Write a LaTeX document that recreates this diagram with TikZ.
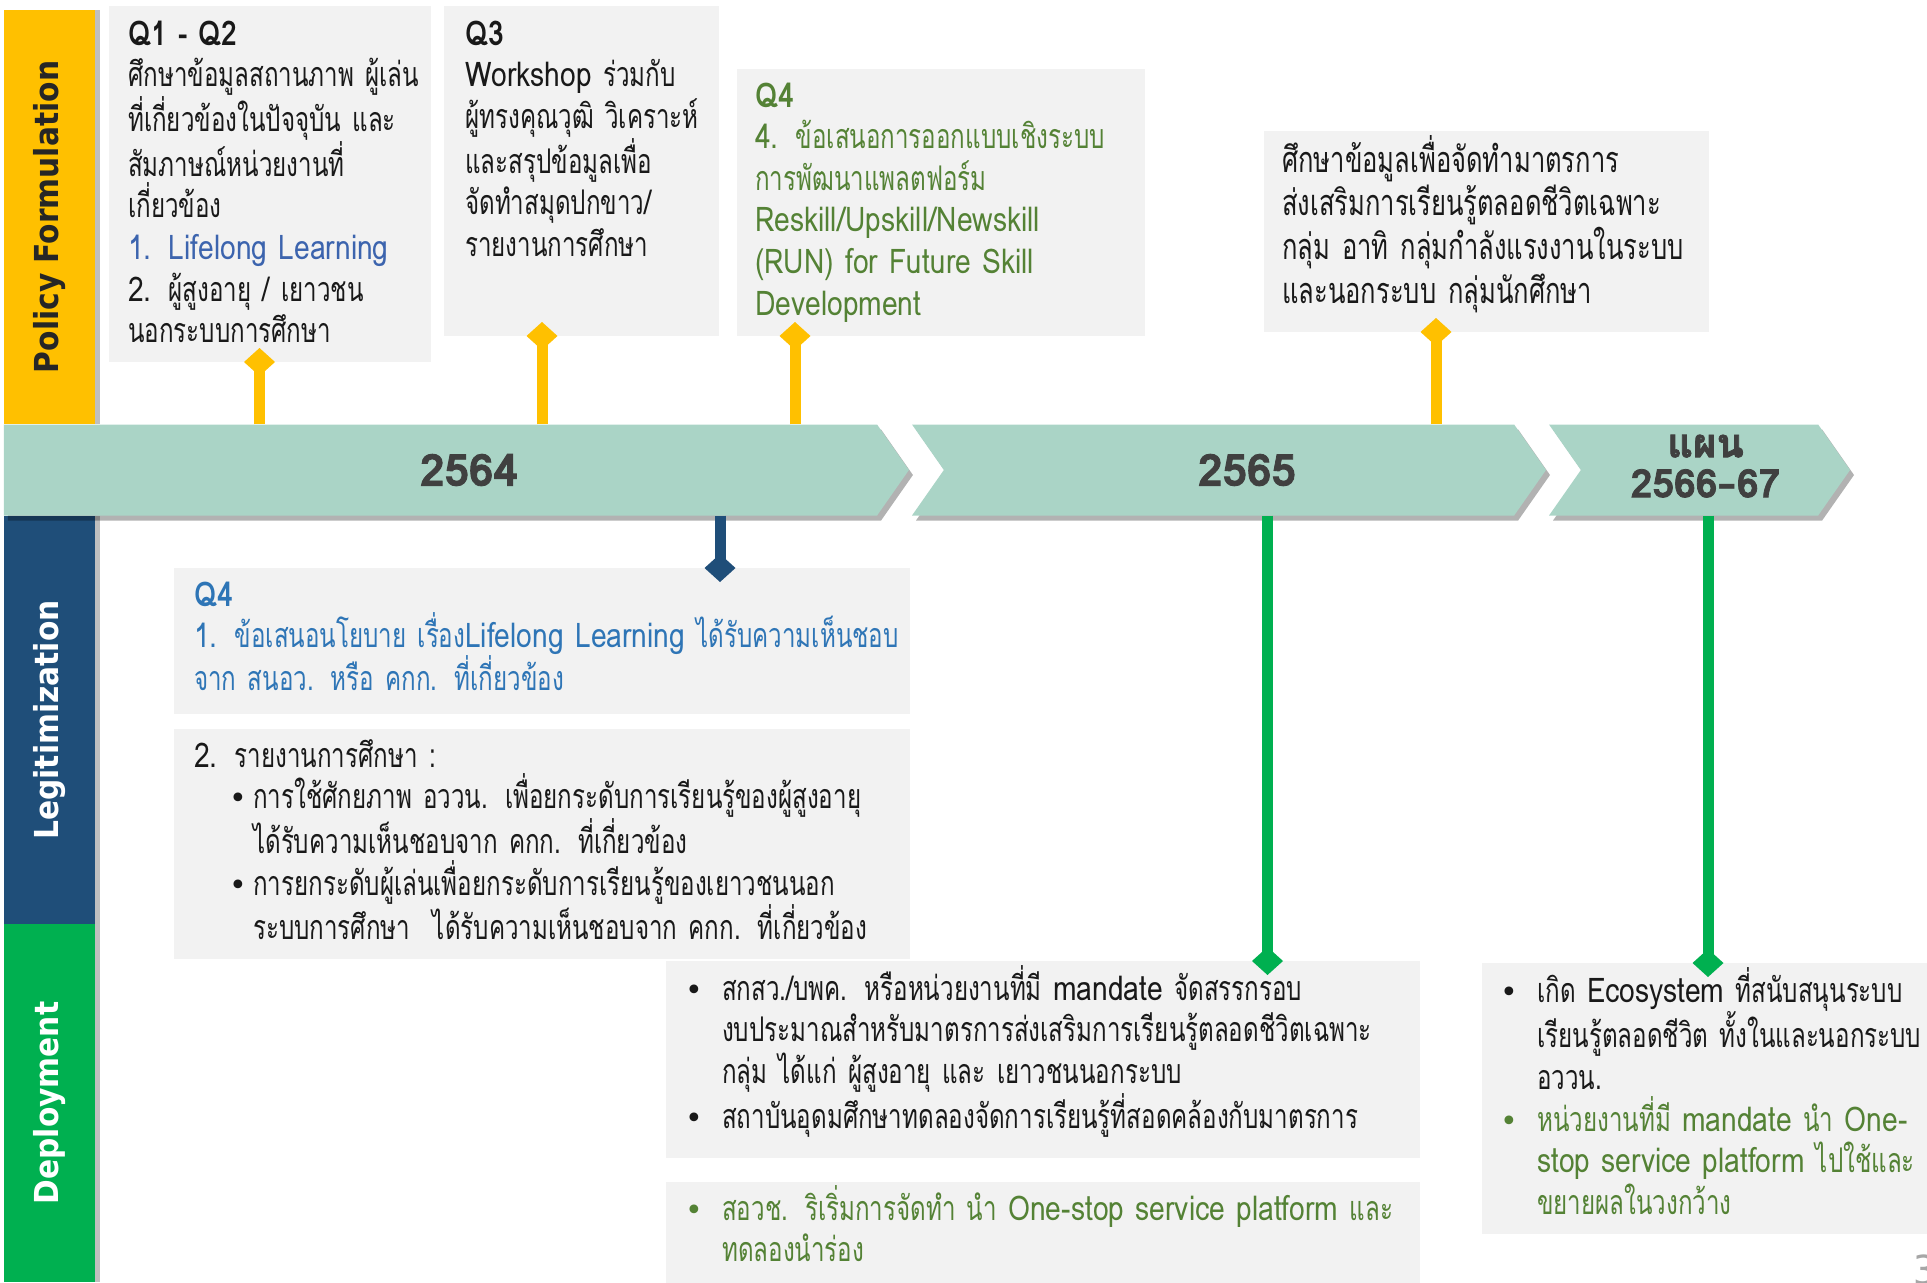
\documentclass[tikz,border=0pt]{standalone}
\usepackage{fontspec}
\usepackage{tikz}
\usetikzlibrary{shapes.symbols,arrows.meta,shadows}

\newfontfamily\thaifont[Script=Thai,FakeStretch=0.71]{Loma}
\newfontfamily\latfont[FakeStretch=0.83]{Loma}
\newfontfamily\yearfont[Script=Thai,BoldFeatures={FakeBold=2}]{Loma}
\newfontfamily\bandfont[FakeStretch=0.9]{DejaVu Sans}
\newfontfamily\symfont{DejaVu Sans}
\newcommand\bodyfont{\thaifont\fontsize{34}{41.6}\selectfont}
\newcommand\lat[1]{{\latfont#1}}
\newcommand\bul[1]{\makebox[#1][l]{\hspace*{-6pt}\symfont\fontsize{30}{30}\selectfont\raisebox{0pt}{•}}}

\definecolor{pfyellow}{HTML}{FFC000}
\definecolor{lgblue}{HTML}{1F4E79}
\definecolor{dpgreen}{HTML}{00B050}
\definecolor{yearteal}{HTML}{AAD4C6}
\definecolor{yeargray}{HTML}{404040}
\definecolor{boxgray}{HTML}{F2F2F2}
\definecolor{lifeblue}{HTML}{3C64AE}
\definecolor{txtblue}{HTML}{2E75B6}
\definecolor{txtgreen}{HTML}{548235}

\begin{document}
\begin{tikzpicture}[x=1pt,y=-1pt,
    band/.style={minimum width=91pt,inner sep=0pt,
      drop shadow={shadow xshift=5pt,shadow yshift=0pt,opacity=0.25,fill=black}},
    bandtext/.style={rotate=90,inner sep=0pt,font=\bandfont\bfseries\fontsize{33}{36}\selectfont},
    yeararrow/.style={signal,signal to=east,signal pointer angle=110,fill=yearteal,
      minimum height=91pt,inner sep=0pt,text=yeargray,align=center,
      font=\yearfont\bfseries\fontsize{44}{40}\selectfont,
      drop shadow={shadow xshift=4pt,shadow yshift=-5pt,opacity=0.3,fill=black}},
    gbox/.style={fill=boxgray,anchor=north west,inner sep=0pt},
    boxtext/.style={anchor=base west,inner sep=0pt,align=left,text width=900pt,
      font=\bodyfont,text=black!90},
    link/.style={line width=11pt,-{Diamond[length=28pt,width=31pt]},shorten >=-14pt},
  ]
\useasboundingbox (0,0) rectangle (1927,1282);

% left bands
\node[band,fill=pfyellow,minimum height=414pt] (pf) at (49.5,217) {};
\node[band,fill=lgblue,minimum height=408pt] (lg) at (49.5,720) {};
\node[band,fill=dpgreen,minimum height=358pt] (dp) at (49.5,1103) {};
\node[bandtext,text=black!85] (pftext) at (pf.center) {Policy Formulation};
\node[bandtext,text=white] (lgtext) at (lg.center) {Legitimization};
\node[bandtext,text=white] (dptext) at (dp.center) {Deployment};

% year arrows
\node[yeararrow,minimum width=905pt] (y64) at (440.5,470) {\hspace*{57pt}2564};
\node[yeararrow,signal from=west,minimum width=634pt] (y65) at (1229,470) {\hspace*{36pt}2565};
\node[yeararrow,signal from=west,minimum width=301pt] (y66) at (1699.5,470)
  {\hspace*{12pt}{\fontsize{40}{40}\selectfont แผน}\\
   \hspace*{12pt}{\fontsize{39}{40}\selectfont 2566{\symfont\bfseries –}67}\rule[-8pt]{0pt}{1pt}};

% boxes
\node[gbox,minimum width=322pt,minimum height=356pt] (q12box) at (109,6) {};
\node[gbox,minimum width=275pt,minimum height=330pt] (q3box) at (444,6) {};
\node[gbox,minimum width=408pt,minimum height=267pt] (q4box) at (737,69) {};
\node[gbox,minimum width=445pt,minimum height=201pt] (stbox) at (1264,131) {};
\node[gbox,minimum width=736pt,minimum height=146pt] (lgbox) at (174,568) {};
\node[gbox,minimum width=736pt,minimum height=230pt] (rpbox) at (174,729) {};
\node[gbox,minimum width=754pt,minimum height=197pt] (dpbox) at (666,961) {};
\node[gbox,minimum width=754pt,minimum height=110pt] (pfbox) at (666,1182) {};
\node[gbox,minimum width=460pt,minimum height=271pt] (ecbox) at (1482,963) {};

% links
\coordinate (ya) at (259.5,362);
\coordinate (yb) at (542,336);
\coordinate (yc) at (795,336);
\coordinate (yd) at (1436,332);
\coordinate (ba) at (720,568);
\coordinate (ga) at (1267.5,961);
\coordinate (gb) at (1708,963);
\draw[link,pfyellow] (ya |- y64.north) -- (ya);
\draw[link,pfyellow] (yb |- y64.north) -- (yb);
\draw[link,pfyellow] (yc |- y64.north) -- (yc);
\draw[link,pfyellow] (yd |- y65.north) -- (yd);
\draw[link,lgblue] (ba |- y64.south) -- (ba);
\draw[link,dpgreen] (ga |- y65.south) -- (ga);
\draw[link,dpgreen] (gb |- y66.south) -- (gb);

% texts
\node[boxtext] (q12txt) at (128,45) {\lat{\bfseries Q1 - Q2}\\
  ศึกษาข้อมูลสถานภาพ ผู้เล่น\\
  ที่เกี่ยวข้องในปัจจุบัน และ\\
  สัมภาษณ์หน่วยงานที่\\
  เกี่ยวข้อง\\
  {\color{lifeblue}\lat{1. Lifelong Learning}}\\
  \lat{2.} ผู้สูงอายุ / เยาวชน\\
  นอกระบบการศึกษา};
\node[boxtext] (q3txt) at (465,45) {\lat{\bfseries Q3}\\
  \lat{Workshop} ร่วมกับ\\
  ผู้ทรงคุณวุฒิ วิเคราะห์\\
  และสรุปข้อมูลเพื่อ\\
  จัดทำสมุดปกขาว/\\
  รายงานการศึกษา};
\node[boxtext,text=txtgreen] (q4txt) at (755,107) {\lat{\bfseries Q4}\\
  \lat{4.} ข้อเสนอการออกแบบเชิงระบบ\\
  การพัฒนาแพลตฟอร์ม\\
  \lat{Reskill/Upskill/Newskill}\\
  \lat{(RUN) for Future Skill}\\
  \lat{Development}};
\node[boxtext,font=\thaifont\fontsize{36}{43.7}\selectfont] (sttxt) at (1282,172) {%
  ศึกษาข้อมูลเพื่อจัดทำมาตรการ\\
  ส่งเสริมการเรียนรู้ตลอดชีวิตเฉพาะ\\
  กลุ่ม อาทิ กลุ่มกำลังแรงงานในระบบ\\
  และนอกระบบ กลุ่มนักศึกษา};
\node[boxtext,text=txtblue] (lgtxt) at (194,606) {\lat{\bfseries Q4}\\
  \lat{1.} ข้อเสนอนโยบาย เรื่อง\lat{Lifelong Learning} ได้รับความเห็นชอบ\\
  จาก สนอว. หรือ คกก. ที่เกี่ยวข้อง};
\node[boxtext] (rptxt) at (194,767) {\lat{2.} รายงานการศึกษา :\\
  \hspace*{41pt}\bul{18pt}การใช้ศักยภาพ อววน. เพื่อยกระดับการเรียนรู้ของผู้สูงอายุ\\
  \hspace*{59pt}ได้รับความเห็นชอบจาก คกก. ที่เกี่ยวข้อง\\
  \hspace*{41pt}\bul{18pt}การยกระดับผู้เล่นเพื่อยกระดับการเรียนรู้ของเยาวชนนอก\\
  \hspace*{59pt}ระบบการศึกษา~~ได้รับความเห็นชอบจาก คกก. ที่เกี่ยวข้อง};
\node[boxtext] (dptxt) at (691,1000) {%
  \bul{31pt}สกสว./บพค. หรือหน่วยงานที่มี \lat{mandate} จัดสรรกรอบ\\
  \hspace*{31pt}งบประมาณสำหรับมาตรการส่งเสริมการเรียนรู้ตลอดชีวิตเฉพาะ\\
  \hspace*{31pt}กลุ่ม ได้แก่ ผู้สูงอายุ และ เยาวชนนอกระบบ\\
  \bul{31pt}สถาบันอุดมศึกษาทดลองจัดการเรียนรู้ที่สอดคล้องกับมาตรการ};
\node[boxtext,text=txtgreen] (pftxt) at (691,1220) {%
  \bul{31pt}สอวช. ริเริ่มการจัดทำ นำ \lat{One-stop service platform} และ\\
  \hspace*{31pt}ทดลองนำร่อง};
\node[boxtext] (ectxt) at (1506,1002) {%
  \bul{31pt}เกิด \lat{Ecosystem} ที่สนับสนุนระบบ\\
  \hspace*{31pt}เรียนรู้ตลอดชีวิต ทั้งในและนอกระบบ\\
  \hspace*{31pt}อววน.\\
  {\color{txtgreen}\bul{31pt}หน่วยงานที่มี \lat{mandate} นำ \lat{One-}}\\
  {\color{txtgreen}\hspace*{31pt}\lat{stop service platform} ไปใช้และ}\\
  {\color{txtgreen}\hspace*{31pt}ขยายผลในวงกว้าง}};

\node[anchor=north west,inner sep=0pt,text=black!35,font=\bandfont\fontsize{40}{40}\selectfont] (pagenum) at (1913,1255) {3};
\end{tikzpicture}
\end{document}
